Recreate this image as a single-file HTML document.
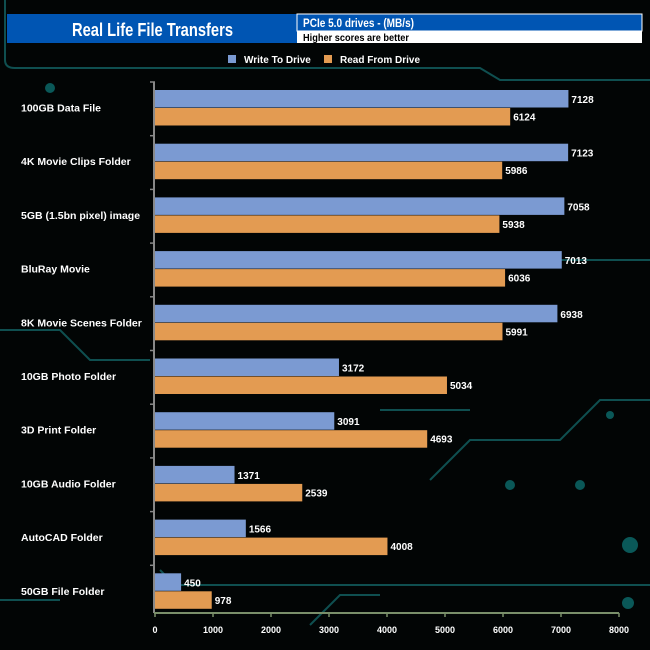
<!DOCTYPE html>
<html><head><meta charset="utf-8"><style>
body{margin:0;background:#000;}
svg{display:block;font-family:"Liberation Sans",Arial,sans-serif;}
</style></head><body>
<svg id="chart" width="650" height="650" viewBox="0 0 650 650">
<rect width="650" height="650" fill="#020505"/>
<g stroke="#0f4f50" stroke-width="2" fill="none">
<path d="M5 0 V60 Q5 68 15 68 H480 L500 80 H650"/>
<path d="M0 330 H60 L90 360 H150"/>
<path d="M160 570 L175 585 H650"/>
<path d="M310 625 L340 595 H380"/>
<path d="M430 480 L470 440 H560 L600 400 H650"/>
<path d="M0 600 H60"/>
<path d="M560 260 H650"/>
<path d="M380 410 H470"/>
</g>
<g fill="#0a5858">
<circle cx="630" cy="545" r="8"/><circle cx="628" cy="603" r="6"/><circle cx="50" cy="88" r="5"/>
<circle cx="610" cy="415" r="4"/><circle cx="580" cy="485" r="5"/><circle cx="510" cy="485" r="5"/>
</g>
<rect x="7" y="14" width="290" height="29" fill="#0055b3"/>
<text x="72" y="36" textLength="161" lengthAdjust="spacingAndGlyphs" fill="#fff" font-size="18" font-weight="bold">Real Life File Transfers</text>
<rect x="297" y="14" width="345" height="17" fill="#0055b3" stroke="#fff" stroke-width="1"/>
<text x="303" y="27" textLength="111" lengthAdjust="spacingAndGlyphs" fill="#fff" font-size="11.5" font-weight="bold">PCIe 5.0 drives - (MB/s)</text>
<rect x="297" y="31" width="345" height="12" fill="#fff"/>
<text x="303" y="41" textLength="106" lengthAdjust="spacingAndGlyphs" fill="#000" font-size="10.5" font-weight="bold">Higher scores are better</text>
<rect x="228" y="55" width="8" height="8" fill="#7b9ad2"/>
<text x="244" y="63" fill="#fff" font-size="10" font-weight="bold">Write To  Drive</text>
<rect x="324" y="55" width="8" height="8" fill="#e39b52"/>
<text x="340" y="63" fill="#fff" font-size="10" font-weight="bold">Read From  Drive</text>
<g id="plot"></g>
</svg>
<script>
const categories=["100GB Data File","4K Movie Clips Folder","5GB (1.5bn pixel) image","BluRay Movie","8K Movie Scenes Folder","10GB Photo Folder","3D Print Folder","10GB Audio Folder","AutoCAD Folder","50GB File Folder"];
const writeValues=[7128,7123,7058,7013,6938,3172,3091,1371,1566,450];
const readValues=[6124,5986,5938,6036,5991,5034,4693,2539,4008,978];
const ticks=[0,1000,2000,3000,4000,5000,6000,7000,8000];
const X0=155,X1=619,XMAX=8000,TOP=82,PITCH=53.7,BAR=17.5,AXY=613;
const x=v=>X0+(X1-X0)*v/XMAX;
const NS="http://www.w3.org/2000/svg";
const g=document.getElementById('plot');
function el(t,a,txt){const e=document.createElementNS(NS,t);for(const k in a)e.setAttribute(k,a[k]);if(txt!=null)e.textContent=txt;g.appendChild(e);return e;}
let e;
e=el('line',{x1:X0-1,y1:TOP,x2:X0-1,y2:AXY,stroke:'#888','stroke-width':2});


e=el('line',{x1:X0-1,y1:AXY,x2:X1,y2:AXY,stroke:'#7a8f6a','stroke-width':2});


ticks.forEach(t=>{
 e=el('line',{x1:x(t),y1:AXY,x2:x(t),y2:AXY+4,stroke:'#7a8f6a','stroke-width':1.5});
 
 
 e=el('text',{x:x(t),y:AXY+20,'text-anchor':'middle',fill:'#fff','font-size':9,'font-weight':'bold'},t);
 
 
});
categories.forEach((c,i)=>{
 const yt=TOP+8+i*PITCH;
 e=el('line',{x1:X0-5,y1:TOP+i*PITCH,x2:X0,y2:TOP+i*PITCH,stroke:'#888','stroke-width':1.5});
 
 
 e=el('text',{x:21,y:yt+BAR+4,fill:'#fff','font-size':10.5,'font-weight':'bold'},c);
 
 
 e=el('rect',{x:X0,y:yt,width:x(writeValues[i])-X0,height:BAR,fill:'#7b9ad2'});
 
 
 e=el('text',{x:x(writeValues[i])+3,y:yt+13,fill:'#fff','font-size':10,'font-weight':'bold'},writeValues[i]);
 
 
 e=el('rect',{x:X0,y:yt+BAR+0.5,width:x(readValues[i])-X0,height:BAR,fill:'#e39b52'});
 
 
 e=el('text',{x:x(readValues[i])+3,y:yt+BAR+13,fill:'#fff','font-size':10,'font-weight':'bold'},readValues[i]);
 
 
});
</script>
</body></html>
